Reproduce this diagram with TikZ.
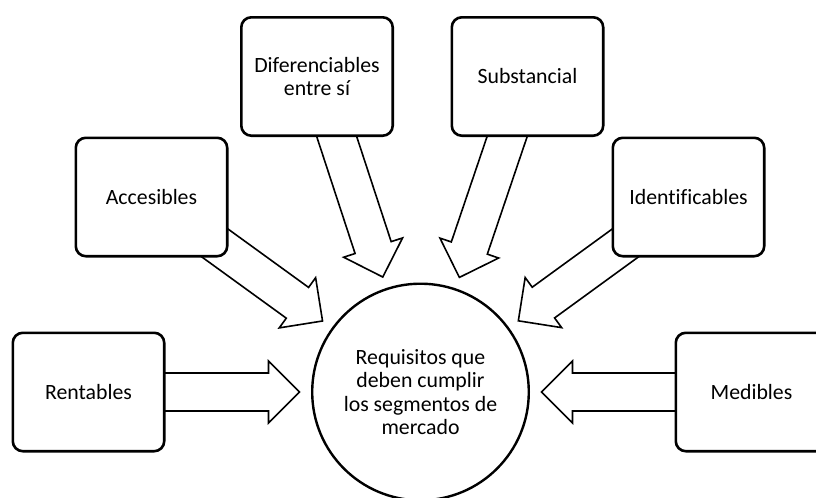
\documentclass[tikz,border=0pt]{standalone}
\usepackage{fontspec}
\setmainfont{Carlito}[Ligatures=NoCommon]
\usetikzlibrary{calc,backgrounds}

\newcommand{\bigarrow}[2]{%
	\coordinate (tp) at ($(#2.center)!60.5pt!(#1.center)$);
	\coordinate (hb) at ($(tp)!15.5pt!(#1.center)$);
	\draw[blockarrow] ($(#1.center)!9.5pt!90:(tp)$) -- ($(hb)!9.5pt!90:(tp)$) -- ($(hb)!15.5pt!90:(tp)$) -- (tp) -- ($(hb)!15.5pt!-90:(tp)$) -- ($(hb)!9.5pt!-90:(tp)$) -- ($(#1.center)!9.5pt!-90:(tp)$) -- cycle;
}

\begin{document}
\begin{tikzpicture}[x=0.5pt,y=-0.5pt,
		box/.style={draw,line width=1.3pt,rounded corners=5pt,fill=white,minimum width=75.7pt,minimum height=59.2pt,align=center,font=\fontsize{10.9pt}{11.7pt}\selectfont},
		blockarrow/.style={draw,line width=0.8pt,fill=white,line join=miter}]
			\useasboundingbox (0,0) rectangle (816,498);
			
			\node (Req) at (420.5,392) [circle,draw,line width=1.2pt,fill=white,minimum size=108.3pt,inner sep=0pt,align=center,font=\fontsize{10.9pt}{11.7pt}\selectfont] {Requisitos que\\deben cumplir\\los segmentos de\\mercado};
			
			\node (Dif) at (317,76.5) [box] {Diferenciables\\entre sí};
			\node (Subst) at (527.5,76.5) [box] {Substancial};
			\node (Acc) at (151.5,197) [box] {Accesibles};
			\node (Ident) at (688.5,197) [box] {Identificables};
			\node (Rent) at (88.5,392) [box] {Rentables};
			\node (Med) at (751.5,392) [box] {Medibles};
			
			\begin{pgfonlayer}{background}
			\bigarrow{Dif}{Req}
			\bigarrow{Subst}{Req}
			\bigarrow{Acc}{Req}
			\bigarrow{Ident}{Req}
			\bigarrow{Rent}{Req}
			\bigarrow{Med}{Req}
			\end{pgfonlayer}
\end{tikzpicture}
\end{document}
